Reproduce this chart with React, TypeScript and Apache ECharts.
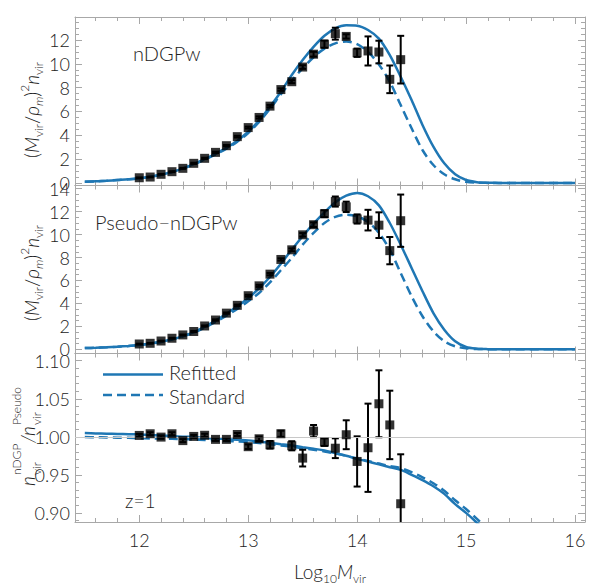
import React, { useEffect, useRef } from 'react';
import * as echarts from 'echarts';

// ---------------- data ----------------
const MASS_BINS = [12.0, 12.1, 12.2, 12.3, 12.4, 12.5, 12.6, 12.7, 12.8, 12.9, 13.0, 13.1, 13.2, 13.3, 13.4, 13.5, 13.6, 13.7, 13.8, 13.9, 14.0, 14.1, 14.2, 14.3, 14.4];

const NDGP_VALUES = [0.44, 0.50, 0.73, 0.95, 1.23, 1.65, 2.07, 2.57, 3.13, 3.89, 4.65, 5.50, 6.45, 7.84, 8.50, 9.73, 10.81, 11.65, 12.53, 12.30, 10.93, 11.08, 10.99, 8.70, 10.35];
const NDGP_ERRORS = [0.03, 0.03, 0.03, 0.04, 0.04, 0.05, 0.05, 0.06, 0.06, 0.07, 0.08, 0.09, 0.10, 0.10, 0.12, 0.15, 0.20, 0.30, 0.50, 0.18, 0.35, 1.22, 0.95, 1.16, 2.00];

const PSEUDO_VALUES = [0.46, 0.52, 0.72, 0.96, 1.25, 1.55, 2.03, 2.55, 3.15, 3.83, 4.67, 5.53, 6.55, 7.83, 8.67, 9.98, 10.86, 11.82, 12.88, 12.42, 11.36, 11.26, 10.82, 8.60, 11.21];
const PSEUDO_ERRORS = [0.03, 0.03, 0.03, 0.04, 0.04, 0.05, 0.05, 0.06, 0.06, 0.07, 0.08, 0.09, 0.10, 0.10, 0.12, 0.15, 0.20, 0.30, 0.44, 0.45, 0.40, 0.90, 1.12, 1.19, 2.28];

const RATIO_VALUES = [1.0018, 1.0040, 0.9996, 1.0040, 0.9950, 1.0005, 1.0020, 0.9966, 0.9966, 1.0030, 0.9870, 0.9974, 0.9895, 1.0040, 0.9882, 0.9720, 1.0075, 0.9930, 0.9850, 1.0027, 0.9676, 0.9856, 1.0434, 1.0156, 0.9120];
const RATIO_ERRORS = [0.002, 0.002, 0.002, 0.002, 0.002, 0.002, 0.002, 0.002, 0.002, 0.002, 0.003, 0.003, 0.005, 0.004, 0.006, 0.011, 0.008, 0.005, 0.013, 0.019, 0.033, 0.058, 0.044, 0.045, 0.065];

const CURVE_MASS = [11.5, 11.6, 11.7, 11.8, 11.9, 12.0, 12.1, 12.2, 12.3, 12.4, 12.5, 12.6, 12.7, 12.8, 12.9, 13.0, 13.1, 13.2, 13.3, 13.4, 13.5, 13.6, 13.7, 13.8, 13.9, 14.0, 14.1, 14.2, 14.3, 14.4, 14.5, 14.6, 14.7, 14.8, 14.9, 15.0, 15.1, 15.2, 15.3, 15.4, 15.5, 15.6, 15.7, 15.8, 15.9, 16.0];

const NDGP_REFITTED = [0.11, 0.14, 0.19, 0.25, 0.31, 0.39, 0.53, 0.70, 0.92, 1.23, 1.59, 2.00, 2.45, 2.95, 3.55, 4.30, 5.26, 6.40, 7.66, 9.06, 10.32, 11.43, 12.36, 12.98, 13.23, 13.20, 12.84, 12.12, 10.74, 8.92, 6.96, 4.87, 3.05, 1.65, 0.73, 0.25, 0.07, 0.02, 0.01, 0, 0, 0, 0, 0, 0, 0];
const NDGP_STANDARD = [0.11, 0.14, 0.19, 0.25, 0.31, 0.39, 0.52, 0.69, 0.91, 1.21, 1.56, 1.97, 2.40, 2.89, 3.47, 4.20, 5.12, 6.22, 7.45, 8.60, 9.62, 10.55, 11.28, 11.72, 11.88, 11.66, 11.00, 9.95, 8.50, 6.54, 4.59, 2.77, 1.51, 0.73, 0.31, 0.10, 0.03, 0.01, 0, 0, 0, 0, 0, 0, 0, 0];

const PSEUDO_REFITTED = [0.10, 0.13, 0.17, 0.22, 0.29, 0.37, 0.50, 0.66, 0.87, 1.15, 1.47, 1.95, 2.50, 3.10, 3.75, 4.45, 5.32, 6.30, 7.46, 8.68, 9.85, 10.95, 11.94, 12.82, 13.39, 13.63, 13.34, 12.55, 11.01, 9.12, 7.09, 5.06, 3.16, 1.71, 0.70, 0.20, 0.05, 0.01, 0, 0, 0, 0, 0, 0, 0, 0];
const PSEUDO_STANDARD = [0.10, 0.13, 0.17, 0.22, 0.28, 0.36, 0.48, 0.64, 0.85, 1.12, 1.45, 1.88, 2.38, 2.93, 3.51, 4.18, 4.91, 5.84, 6.89, 7.96, 9.12, 10.14, 11.01, 11.55, 11.74, 11.60, 11.10, 10.15, 8.68, 6.65, 4.62, 2.88, 1.57, 0.70, 0.26, 0.08, 0.02, 0.01, 0, 0, 0, 0, 0, 0, 0, 0];

const RATIO_REFITTED = [1.0049, 1.0045, 1.0041, 1.0037, 1.0034, 1.0030, 1.0023, 1.0016, 1.0009, 1.0002, 0.9996, 0.9987, 0.9978, 0.9970, 0.9961, 0.9953, 0.9937, 0.9921, 0.9903, 0.9885, 0.9864, 0.9843, 0.9820, 0.9785, 0.9750, 0.9710, 0.9675, 0.9638, 0.9600, 0.9565, 0.9500, 0.9430, 0.9350, 0.9250, 0.9115, 0.9000, 0.8870, 0.8730, 0.8580];
const RATIO_STANDARD = [0.9996, 0.9994, 0.9992, 0.9989, 0.9986, 0.9982, 0.9979, 0.9976, 0.9973, 0.9970, 0.9966, 0.9959, 0.9953, 0.9945, 0.9938, 0.9930, 0.9918, 0.9903, 0.9887, 0.9870, 0.9850, 0.9830, 0.9808, 0.9780, 0.9750, 0.9715, 0.9682, 0.9648, 0.9615, 0.9588, 0.9535, 0.9468, 0.9390, 0.9290, 0.9165, 0.9050, 0.8920, 0.8785, 0.8640];

const X_TICKS = [12, 13, 14, 15, 16];
const NDGP_TICKS = [0, 2, 4, 6, 8, 10, 12];
const PSEUDO_TICKS = [0, 2, 4, 6, 8, 10, 12, 14];
const RATIO_TICKS = [0.9, 0.95, 1.0, 1.05, 1.1];

const SERIES_NAMES = ['Refitted', 'Standard'];
const PANEL_LABELS = ['nDGPw', 'Pseudo\u2212nDGPw'];
const REDSHIFT_LABEL = 'z=1';

// ---------------- style ----------------
const BLUE = '#1f77b4';
const FRAME = '#a8a8a8';
const TEXT = '#222222';
const FONT = 'Lato, "Open Sans", "DejaVu Sans", sans-serif';
const WEIGHT = 300;
const DASH = [9, 5];

const X_MIN = 11.41;
const X_MAX = 16.092;
const PANELS = [
  { top: 17, height: 168.5, min: -0.21, max: 13.93 },
  { top: 185.5, height: 168, min: -0.37, max: 14.28 },
  { top: 353.5, height: 168.5, min: 0.888, max: 1.1095 },
];

function minorValues(from: number, to: number, step: number, majorStep: number, digits: number) {
  const out: number[] = [];
  const n = Math.round((to - from) / step);
  for (let k = 0; k <= n; k++) {
    const v = +(from + k * step).toFixed(digits);
    const r = v / majorStep;
    if (Math.abs(r - Math.round(r)) > 1e-6) out.push(v);
  }
  return out;
}

const X_MINOR = minorValues(11.6, 16.0, 0.2, 1, 1);
const Y_MINOR = [
  minorValues(0, 13.5, 0.5, 2, 1),
  minorValues(0, 14.0, 0.5, 2, 1),
  minorValues(0.89, 1.1, 0.01, 0.05, 2),
];
const Y_MAJOR = [NDGP_TICKS, PSEUDO_TICKS, RATIO_TICKS];

const labelStyle = { fontSize: 18, color: TEXT, fontFamily: FONT, fontWeight: WEIGHT };

function buildXAxes(gi: number, showLabels: boolean) {
  const common: any = { type: 'value', gridIndex: gi, min: X_MIN, max: X_MAX, splitLine: { show: false } };
  const line = { show: true, onZero: false, lineStyle: { color: FRAME, width: 1 } };
  const noLine = { show: false, onZero: false };
  const major = { show: true, inside: true, length: 7, customValues: X_TICKS, lineStyle: { color: FRAME, width: 1 } };
  const minor = { show: true, inside: true, length: 4, customValues: X_MINOR, lineStyle: { color: FRAME, width: 1 } };
  return [
    {
      ...common, position: 'bottom', axisLine: line, axisTick: major,
      axisLabel: showLabels ? { show: true, customValues: X_TICKS, margin: 9, ...labelStyle, formatter: (v: number) => String(v) } : { show: false },
    },
    { ...common, position: 'top', axisLine: line, axisTick: major, axisLabel: { show: false } },
    { ...common, position: 'bottom', axisLine: noLine, axisTick: minor, axisLabel: { show: false } },
    { ...common, position: 'top', axisLine: noLine, axisTick: minor, axisLabel: { show: false } },
  ];
}

function buildYAxes(gi: number) {
  const p = PANELS[gi];
  const common: any = { type: 'value', gridIndex: gi, min: p.min, max: p.max, splitLine: { show: false } };
  const line = { show: true, onZero: false, lineStyle: { color: FRAME, width: 1 } };
  const noLine = { show: false, onZero: false };
  const major = { show: true, inside: true, length: 7, customValues: Y_MAJOR[gi], lineStyle: { color: FRAME, width: 1 } };
  const minor = { show: true, inside: true, length: 4, customValues: Y_MINOR[gi], lineStyle: { color: FRAME, width: 1 } };
  const fmt = gi === 2 ? (v: number) => v.toFixed(2) : (v: number) => String(v);
  return [
    {
      ...common, position: 'left', axisLine: line, axisTick: major,
      axisLabel: { show: true, customValues: Y_MAJOR[gi], margin: 5, ...labelStyle, formatter: fmt },
    },
    { ...common, position: 'right', axisLine: line, axisTick: major, axisLabel: { show: false } },
    { ...common, position: 'left', axisLine: noLine, axisTick: minor, axisLabel: { show: false } },
    { ...common, position: 'right', axisLine: noLine, axisTick: minor, axisLabel: { show: false } },
  ];
}

function errorBarRender(params: any, api: any) {
  const x = api.value(0);
  const lo = api.value(1);
  const hi = api.value(2);
  const cs = params.coordSys;
  const top = api.coord([x, hi]);
  const bot = api.coord([x, lo]);
  const yMin = cs.y;
  const yMax = cs.y + cs.height;
  const y1 = Math.max(top[1], yMin);
  const y2 = Math.min(bot[1], yMax);
  const st = { stroke: '#000', lineWidth: 2 };
  const children: any[] = [
    { type: 'line', shape: { x1: top[0], y1, x2: top[0], y2 }, style: st },
  ];
  const hw = 3.5;
  if (top[1] >= yMin) children.push({ type: 'line', shape: { x1: top[0] - hw, y1: top[1], x2: top[0] + hw, y2: top[1] }, style: st });
  if (bot[1] <= yMax) children.push({ type: 'line', shape: { x1: bot[0] - hw, y1: bot[1], x2: bot[0] + hw, y2: bot[1] }, style: st });
  return { type: 'group', children };
}

function zip(xs: number[], ys: number[]) {
  return ys.map((y, k) => [xs[k], y]);
}

function panelSeries(gi: number, refit: number[], std: number[], vals: number[], errs: number[]) {
  const ax = 4 * gi;
  const series: any[] = [
    {
      name: SERIES_NAMES[0], type: 'line', xAxisIndex: ax, yAxisIndex: ax,
      data: zip(CURVE_MASS, refit), symbol: 'none', smooth: 0.3, z: 3,
      lineStyle: { color: BLUE, width: 2.5 }, itemStyle: { color: BLUE },
    },
    {
      name: SERIES_NAMES[1], type: 'line', xAxisIndex: ax, yAxisIndex: ax,
      data: zip(CURVE_MASS, std), symbol: 'none', smooth: 0.3, z: 3,
      lineStyle: { color: BLUE, width: 2.5, type: DASH }, itemStyle: { color: BLUE },
    },
    {
      type: 'custom', xAxisIndex: ax, yAxisIndex: ax, z: 4,
      data: MASS_BINS.map((m, k) => [m, vals[k] - errs[k], vals[k] + errs[k]]),
      encode: { x: 0, y: [1, 2] },
      renderItem: errorBarRender,
    },
    {
      type: 'scatter', xAxisIndex: ax, yAxisIndex: ax, z: 5,
      data: zip(MASS_BINS, vals), symbol: 'rect', symbolSize: 9,
      itemStyle: { color: '#000' },
    },
  ];
  if (gi === 2) {
    series.push({
      type: 'line', xAxisIndex: ax, yAxisIndex: ax, data: [], z: 1,
      markLine: {
        silent: true, symbol: 'none', label: { show: false },
        lineStyle: { color: '#c8c8c8', width: 1, type: 'solid' },
        data: [{ yAxis: 1 }],
      },
    });
  }
  return series;
}

function buildOption(): any {
  const grid = PANELS.map((p) => ({ left: 75, width: 510, top: p.top, height: p.height, containLabel: false }));
  const xAxis = [...buildXAxes(0, false), ...buildXAxes(1, false), ...buildXAxes(2, true)];
  const yAxis = [...buildYAxes(0), ...buildYAxes(1), ...buildYAxes(2)];
  const series = [
    ...panelSeries(0, NDGP_REFITTED, NDGP_STANDARD, NDGP_VALUES, NDGP_ERRORS),
    ...panelSeries(1, PSEUDO_REFITTED, PSEUDO_STANDARD, PSEUDO_VALUES, PSEUDO_ERRORS),
    ...panelSeries(2, RATIO_REFITTED, RATIO_STANDARD, RATIO_VALUES, RATIO_ERRORS),
  ];

  const sub = { fontSize: 12, fontFamily: FONT, fontWeight: WEIGHT, fill: TEXT, verticalAlign: 'bottom', lineHeight: 14 };
  const titleRich: any = {
    r: { fontSize: 19, fontFamily: FONT, fontWeight: WEIGHT, fill: TEXT, lineHeight: 26 },
    i: { fontSize: 19, fontFamily: FONT, fontWeight: WEIGHT, fontStyle: 'italic', fill: TEXT, lineHeight: 26 },
    sub,
    isub: { ...sub, fontStyle: 'italic' },
    sup: { fontSize: 12, fontFamily: FONT, fontWeight: WEIGHT, fill: TEXT, verticalAlign: 'top', lineHeight: 14 },
  };
  const yTitle = '{r|(}{i|M}{sub|vir}{r|/}{i|\u03c1}{isub|m}{r|)}{sup|2}{i|n}{sub|vir}';

  const t = (text: string, x: number, y: number, size: number, italic = false) => ({
    type: 'text', x, y,
    style: { text, fontSize: size, fontFamily: FONT, fontWeight: WEIGHT, fontStyle: italic ? 'italic' : 'normal', fill: TEXT, align: 'left', verticalAlign: 'middle' },
  });

  const graphic: any[] = [
    t(PANEL_LABELS[0], 133, 53, 20),
    t(PANEL_LABELS[1], 95, 222, 20),
    t(REDSHIFT_LABEL, 125, 500, 19),
    // legend
    { type: 'line', shape: { x1: 103, y1: 374.5, x2: 163, y2: 374.5 }, style: { stroke: BLUE, lineWidth: 2.5 } },
    t(SERIES_NAMES[0], 169, 372, 20),
    { type: 'line', shape: { x1: 103, y1: 395, x2: 163, y2: 395 }, style: { stroke: BLUE, lineWidth: 2.5, lineDash: DASH } },
    t(SERIES_NAMES[1], 169, 395.5, 20),
    // axis titles
    { type: 'text', x: 31, y: 110, rotation: Math.PI / 2, style: { text: yTitle, rich: titleRich, align: 'center', verticalAlign: 'middle' } },
    { type: 'text', x: 31, y: 273, rotation: Math.PI / 2, style: { text: yTitle, rich: titleRich, align: 'center', verticalAlign: 'middle' } },
    {
      type: 'text', x: 330, y: 571,
      style: { text: '{r|Log}{sub|10}{i|M}{sub|vir}', rich: titleRich, align: 'center', verticalAlign: 'middle' },
    },
    {
      type: 'group', x: 27, y: 486, rotation: Math.PI / 2,
      children: [
        t('n', 0, 0, 19, true),
        t('nDGP', 11, -11, 12),
        t('vir', 11, 9, 12),
        t('/', 43, 0, 19, true),
        t('n', 50, 0, 19, true),
        t('Pseudo', 61, -11, 12),
        t('vir', 61, 9, 12),
      ],
    },
  ];

  return {
    animation: false,
    backgroundColor: '#ffffff',
    grid,
    xAxis,
    yAxis,
    series,
    graphic,
  };
}

export default function App() {
  const ref = useRef<HTMLDivElement>(null);
  useEffect(() => {
    const chart = echarts.init(ref.current!, null, { renderer: 'svg' });
    chart.setOption(buildOption());
    return () => chart.dispose();
  }, []);
  return <div ref={ref} style={{ position: 'absolute', left: 0, top: 0, width: 600, height: 586 }} />;
}
